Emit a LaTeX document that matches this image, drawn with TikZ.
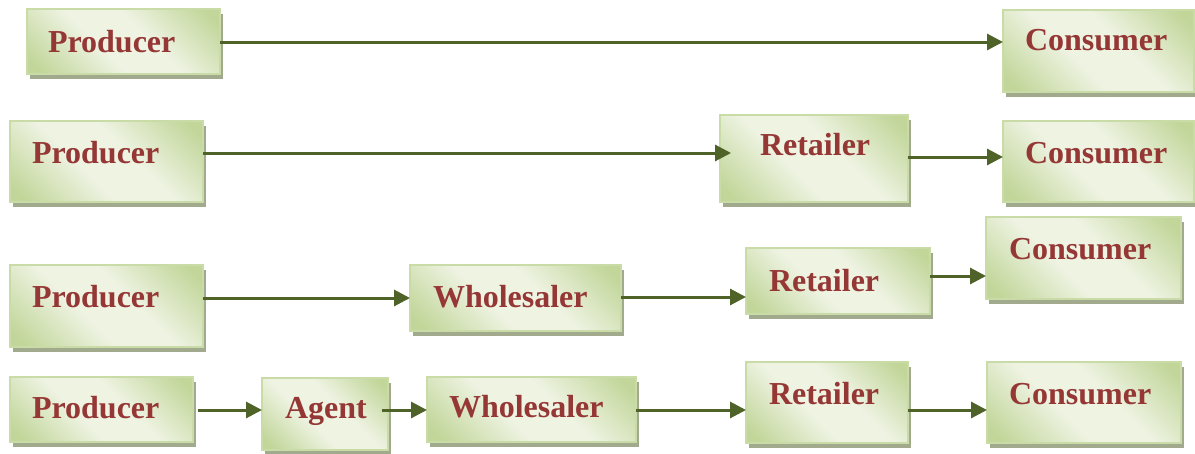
\documentclass[tikz,border=0pt]{standalone}
\usepackage{fontspec}
\setmainfont{Liberation Serif}
\usetikzlibrary{arrows.meta,shadows}
\definecolor{gl}{HTML}{EEF3E2}
\definecolor{gd}{HTML}{C2D69A}
\definecolor{bordc}{HTML}{C9DBA7}
\definecolor{shadc}{HTML}{A2AA8E}
\definecolor{txtc}{HTML}{953735}
\definecolor{arrc}{HTML}{4F6228}
\pgfdeclarehorizontalshading{boxgrad}{100bp}{color(0bp)=(gd); color(19bp)=(gd); color(42bp)=(gl); color(58bp)=(gl); color(81bp)=(gd); color(100bp)=(gd)}
\tikzset{
  box/.style={rectangle, inner sep=0pt, outer sep=0pt, draw=bordc, line width=1.5pt,
    shading=boxgrad, shading angle=45,
    drop shadow={shadow xshift=3pt, shadow yshift=-5pt, fill=shadc, opacity=1}},
  lbl/.style={anchor=base west, inner sep=0pt, outer sep=0pt, text=txtc,
    font=\fontsize{32}{38}\selectfont\bfseries},
  arr/.style={draw=arrc, line width=3pt, -{Triangle[length=16pt,width=16pt]}}
}
\begin{document}
\begin{tikzpicture}[x=1pt,y=-1pt]
\fill[white] (0,0) rectangle (1195,453);
\useasboundingbox (0,0) rectangle (1195,453);
% row 1
\node[box, minimum width=193pt, minimum height=65pt] (P1) at (123.5,41.5) {};
\node[box, minimum width=191pt, minimum height=82pt] (C1) at (1098.5,51) {};
% row 2
\node[box, minimum width=193pt, minimum height=81pt] (P2) at (106.5,161.5) {};
\node[box, minimum width=188pt, minimum height=87pt] (R2) at (814,158.5) {};
\node[box, minimum width=191pt, minimum height=81pt] (C2) at (1098.5,161.5) {};
% row 3
\node[box, minimum width=193pt, minimum height=82pt] (P3) at (106.5,306) {};
\node[box, minimum width=211pt, minimum height=66pt] (W3) at (515.5,298) {};
\node[box, minimum width=184pt, minimum height=66pt] (R3) at (838,281) {};
\node[box, minimum width=195pt, minimum height=82pt] (C3) at (1083.5,258) {};
% row 4
\node[box, minimum width=183pt, minimum height=65pt] (P4) at (101.5,409.5) {};
\node[box, minimum width=126pt, minimum height=72pt] (A4) at (325,414) {};
\node[box, minimum width=209pt, minimum height=65pt] (W4) at (531.5,409.5) {};
\node[box, minimum width=162pt, minimum height=81pt] (R4) at (827,402.5) {};
\node[box, minimum width=194pt, minimum height=81pt] (C4) at (1084,402.5) {};
% labels
\node[lbl] (tP1) at (48,52) {Producer};
\node[lbl] (tC1) at (1025,50) {Consumer};
\node[lbl] (tP2) at (32,163) {Producer};
\node[lbl] (tR2) at (760,155) {Retailer};
\node[lbl] (tC2) at (1025,163) {Consumer};
\node[lbl] (tP3) at (32,307) {Producer};
\node[lbl] (tW3) at (433,307) {Wholesaler};
\node[lbl] (tR3) at (769,291) {Retailer};
\node[lbl] (tC3) at (1009,259) {Consumer};
\node[lbl] (tP4) at (32,418) {Producer};
\node[lbl] (tA4) at (285,418) {Agent};
\node[lbl] (tW4) at (449,417) {Wholesaler};
\node[lbl] (tR4) at (769,404) {Retailer};
\node[lbl] (tC4) at (1009,404) {Consumer};
% connectors
\draw[arr] (P1.east |- 0,42) -- (C1.west |- 0,42);
\draw[arr, shorten >=-11pt] (P2.east |- 0,153) -- (R2.west |- 0,153);
\draw[arr] (R2.east |- 0,157) -- (C2.west |- 0,157);
\draw[arr] (P3.east |- 0,298) -- (W3.west |- 0,298);
\draw[arr] (W3.east |- 0,297) -- (R3.west |- 0,297);
\draw[arr] (R3.east |- 0,276) -- (C3.west |- 0,276);
\draw[arr, shorten <=5pt] (P4.east |- 0,410) -- (A4.west |- 0,410);
\draw[arr, shorten <=-6pt] (A4.east |- 0,410) -- (W4.west |- 0,410);
\draw[arr] (W4.east |- 0,410) -- (R4.west |- 0,410);
\draw[arr] (R4.east |- 0,410) -- (C4.west |- 0,410);
\end{tikzpicture}
\end{document}
